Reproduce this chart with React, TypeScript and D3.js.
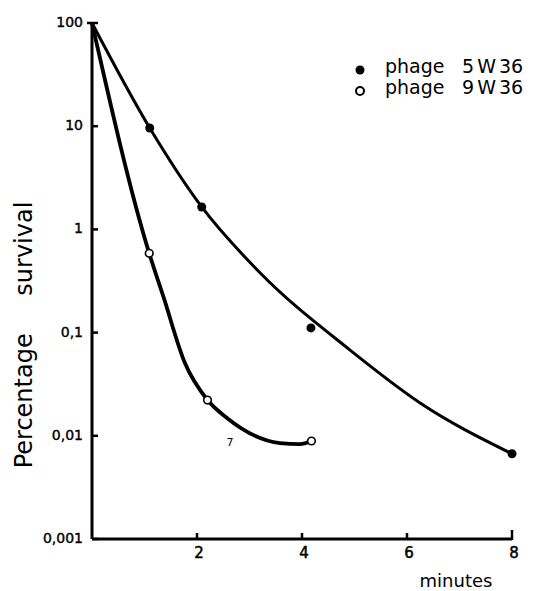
import React from "react";
import * as d3 from "d3";

// ---- data ----
const xTicks = [2, 4, 6, 8];
const xTickLabels = ["2", "4", "6", "8"];
const yTicks = [100, 10, 1, 0.1, 0.01, 0.001];
const yTickLabels = ["100", "10", "1", "0,1", "0,01", "0,001"];

// measured points, phage 5W36 (filled)
const pts5W36X = [1.1, 2.09, 4.17, 8];
const pts5W36Y = [9.6, 1.65, 0.111, 0.0067];
// hand-drawn fitted curve, phage 5W36
const curve5W36X = [0, 1.1, 2.09, 3.2, 4.91, 6.25, 8];
const curve5W36Y = [100, 9.6, 1.65, 0.38, 0.068, 0.0208, 0.0067];

// measured points, phage 9W36 (open)
const pts9W36X = [1.09, 2.2, 4.18];
const pts9W36Y = [0.586, 0.0222, 0.0089];
// hand-drawn fitted curve, phage 9W36
const curve9W36X = [0, 1.09, 1.36, 1.77, 2.2, 2.57, 3.58, 3.96, 4.18];
const curve9W36Y = [100, 0.586, 0.223, 0.0507, 0.0222, 0.0149, 0.0085, 0.0083, 0.0089];

const legendMarkers = ["filled", "open"];
const legendNames = ["phage", "phage"];
const legendStrains = ["5 W 36", "9 W 36"];

const W = 534;
const H = 591;
const FONT = "'DejaVu Sans', 'Liberation Sans', sans-serif";

export default function App() {
  const x = d3.scaleLinear().domain([0, 8]).range([92, 512]);
  const y = d3.scaleLog().domain([0.001, 100]).range([539, 23]);

  const line = d3
    .line<[number, number]>()
    .x((d) => x(d[0]))
    .y((d) => y(d[1]))
    .curve(d3.curveMonotoneX);

  const c5 = curve5W36X.map((v, i) => [v, curve5W36Y[i]] as [number, number]);
  const c9 = curve9W36X.map((v, i) => [v, curve9W36Y[i]] as [number, number]);

  const x0 = x(0);
  const yBot = y(0.001);

  return (
    <svg
      width={W}
      height={H}
      style={{ position: "absolute", left: 0, top: 0, background: "#fff" }}
      fontFamily={FONT}
    >
      <rect x={0} y={0} width={W} height={H} fill="#fff" />

      {/* axes */}
      <line x1={x0} y1={y(100)} x2={x0} y2={yBot} stroke="#000" strokeWidth={3} />
      <line x1={x0} y1={yBot} x2={x(8)} y2={yBot} stroke="#000" strokeWidth={3} />
      <line x1={x(8)} y1={yBot + 1} x2={x(8)} y2={yBot - 9} stroke="#000" strokeWidth={2.5} />

      {/* y ticks */}
      {yTicks.map((t, i) => (
        <g key={"yt" + i}>
          <line x1={x0 - (i === 0 ? 5 : 0)} y1={y(t)} x2={x0 + 6} y2={y(t)} stroke="#000" strokeWidth={2.5} />
          <text
            x={x0 - 9}
            y={y(t)}
            textAnchor="end"
            dominantBaseline="middle"
            fontSize={14}
            stroke="#000"
            strokeWidth={0.4}
          >
            {yTickLabels[i]}
          </text>
        </g>
      ))}

      {/* x ticks */}
      {xTicks.map((t, i) => (
        <g key={"xt" + i}>
          {i < xTicks.length - 1 && (
            <line x1={x(t)} y1={yBot} x2={x(t)} y2={yBot - 6} stroke="#000" strokeWidth={2.5} />
          )}
          <text x={x(t) + 2} y={yBot + 19} textAnchor="middle" fontSize={15} stroke="#000" strokeWidth={0.5}>
            {xTickLabels[i]}
          </text>
        </g>
      ))}

      {/* axis titles */}
      <text x={456} y={587} textAnchor="middle" fontSize={18}>
        minutes
      </text>
      <text
        transform="translate(32,335) rotate(-90)"
        textAnchor="middle"
        fontSize={24}
        wordSpacing={30}
      >
        Percentage survival
      </text>

      {/* curves */}
      <path d={line(c5) || ""} fill="none" stroke="#000" strokeWidth={3} strokeLinejoin="round" />
      <path d={line(c9) || ""} fill="none" stroke="#000" strokeWidth={3.8} strokeLinejoin="round" />

      {/* points */}
      {pts5W36X.map((v, i) => (
        <circle key={"p5" + i} cx={x(v)} cy={y(pts5W36Y[i])} r={4.5} fill="#000" />
      ))}
      {pts9W36X.map((v, i) => (
        <circle key={"p9" + i} cx={x(v)} cy={y(pts9W36Y[i])} r={3.8} fill="#fff" stroke="#000" strokeWidth={1.6} />
      ))}

      {/* stray mark in the scan */}
      <text x={230} y={446} fontSize={11} textAnchor="middle">7</text>

      {/* legend */}
      {legendMarkers.map((m, i) => (
        <g key={"lg" + i} transform={`translate(360,${70 + i * 21})`}>
          {m === "filled" ? (
            <circle cx={0} cy={0} r={4.5} fill="#000" />
          ) : (
            <circle cx={0} cy={0} r={4} fill="#fff" stroke="#000" strokeWidth={2} />
          )}
          <text x={25} y={3} fontSize={19}>
            {legendNames[i]}
          </text>
          <text x={102} y={3} fontSize={19} wordSpacing={-3}>
            {legendStrains[i]}
          </text>
        </g>
      ))}
    </svg>
  );
}
